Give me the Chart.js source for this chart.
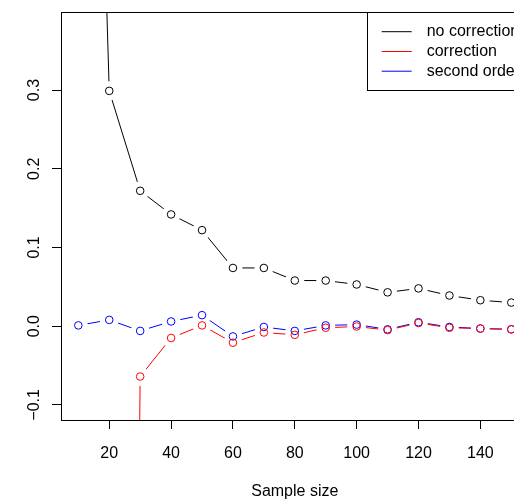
<!DOCTYPE html>
<html>
<head>
<meta charset="utf-8">
<script src="https://cdn.jsdelivr.net/npm/chart.js@4/dist/chart.umd.min.js"></script>
<style>
  html, body { margin: 0; padding: 0; background: #fff; overflow: hidden; width: 514px; height: 499px; }
  canvas { display: block; }
</style>
</head>
<body>
<canvas id="c" width="540" height="499"></canvas>
<script>
// ---- data ----
const sampleSizes = [10, 20, 30, 40, 50, 60, 70, 80, 90, 100, 110, 120, 130, 140, 150];
const noCorrection = [1.6, 0.299, 0.172, 0.142, 0.122, 0.074, 0.074, 0.058, 0.058, 0.053, 0.043, 0.048, 0.039, 0.033, 0.030];
const correction   = [null, -4.0, -0.064, -0.015, 0.001, -0.021, -0.008, -0.011, -0.002, -0.0004, -0.005, 0.004, -0.002, -0.003, -0.004];
const secondOrder  = [0.001, 0.008, -0.006, 0.006, 0.014, -0.013, -0.001, -0.006, 0.001, 0.002, -0.004, 0.005, -0.001, -0.003, -0.004];
const seriesLabels = ['no correction', 'correction', 'second order'];
const seriesColors = ['#000000', '#FF0000', '#0000FF'];
const xTicks = [20, 40, 60, 80, 100, 120, 140];
const yTicks = [-0.1, 0.0, 0.1, 0.2, 0.3];
const xTitle = 'Sample size';

const FONT = '"Liberation Sans", Arial, Helvetica, sans-serif';
const GAP = 9.5;

function toPoints(arr) {
  return sampleSizes.map((x, i) => ({ x: x, y: arr[i] }));
}

// R type="b": line segments leave a gap around each point
const gapPlugin = {
  id: 'gaps',
  beforeDatasetDraw(chart, args) {
    const ctx = chart.ctx;
    ctx.save();
    ctx.beginPath();
    ctx.rect(0, 0, chart.width, chart.height);
    args.meta.data.forEach(pt => {
      if (pt.skip || !isFinite(pt.x) || !isFinite(pt.y)) return;
      ctx.moveTo(pt.x + GAP, pt.y);
      ctx.arc(pt.x, pt.y, GAP, 0, Math.PI * 2, true);
    });
    ctx.clip('evenodd');
  },
  afterDatasetDraw(chart, args) {
    const ctx = chart.ctx;
    ctx.restore();
    const a = chart.chartArea;
    ctx.save();
    ctx.beginPath();
    ctx.rect(a.left, a.top, a.right - a.left, a.bottom - a.top);
    ctx.clip();
    args.meta.data.forEach(pt => pt.draw(ctx, a));
    ctx.restore();
  }
};

const boxLegendPlugin = {
  id: 'boxLegend',
  afterDraw(chart) {
    const ctx = chart.ctx;
    const a = chart.chartArea;
    ctx.save();
    ctx.strokeStyle = '#000';
    ctx.lineWidth = 1;
    ctx.strokeRect(Math.round(a.left) + 0.5, Math.round(a.top) + 0.5,
                   Math.round(a.right - a.left), Math.round(a.bottom - a.top));
    // legend box (top right)
    const lx = 367.5, ly = Math.round(a.top) + 0.5, lb = 90.5;
    const lr = Math.round(a.right) + 0.5;
    ctx.fillStyle = '#fff';
    ctx.fillRect(lx, ly, lr - lx, lb - ly);
    ctx.strokeRect(lx, ly, lr - lx, lb - ly);
    const rows = [31.7, 51.5, 71.2];
    ctx.font = '16px ' + FONT;
    ctx.textBaseline = 'middle';
    ctx.textAlign = 'left';
    chart.data.datasets.forEach((ds, i) => {
      ctx.strokeStyle = ds.borderColor;
      ctx.beginPath();
      ctx.moveTo(381.7, rows[i]);
      ctx.lineTo(411.7, rows[i]);
      ctx.stroke();
      ctx.fillStyle = '#000';
      ctx.fillText(ds.label, 426.7, rows[i]);
    });
    ctx.restore();
  }
};

const datasets = [noCorrection, correction, secondOrder].map((arr, i) => ({
  label: seriesLabels[i],
  data: toPoints(arr),
  borderColor: seriesColors[i],
  borderWidth: 1,
  pointRadius: 3.8,
  pointBorderWidth: 1,
  pointBorderColor: seriesColors[i],
  pointBackgroundColor: 'rgba(0,0,0,0)',
  pointHoverRadius: 3.8,
  tension: 0,
  spanGaps: false,
  fill: false
}));

new Chart(document.getElementById('c'), {
  type: 'line',
  data: { datasets: datasets },
  plugins: [gapPlugin, boxLegendPlugin],
  options: {
    responsive: false,
    devicePixelRatio: 1,
    animation: false,
    events: [],
    layout: { padding: { left: 0, top: 12, right: 11.4, bottom: 0 } },
    plugins: { legend: { display: false }, tooltip: { enabled: false }, title: { display: false } },
    scales: {
      x: {
        type: 'linear',
        min: 4.4,
        max: 155.6,
        afterBuildTicks: s => { s.ticks = xTicks.map(v => ({ value: v })); },
        afterFit: s => { s.height = 79; },
        border: { display: false },
        grid: { display: true, drawOnChartArea: false, drawTicks: true, tickLength: 9, tickColor: '#000', lineWidth: 1 },
        ticks: { color: '#000', font: { family: FONT, size: 16 }, padding: 15, maxRotation: 0, minRotation: 0, autoSkip: false,
                 callback: v => String(v) },
        title: { display: true, text: xTitle, color: '#000', font: { family: FONT, size: 16 }, padding: { top: 0, bottom: -2 } }
      },
      y: {
        type: 'linear',
        min: -0.1192,
        max: 0.3992,
        afterBuildTicks: s => { s.ticks = yTicks.map(v => ({ value: v })); },
        afterFit: s => { s.width = 61; },
        border: { display: false },
        grid: { display: true, drawOnChartArea: false, drawTicks: true, tickLength: 9, tickColor: '#000', lineWidth: 1 },
        ticks: { color: '#000', font: { family: FONT, size: 16 }, padding: 2, minRotation: 90, maxRotation: 90,
                 crossAlign: 'center', autoSkip: false,
                 callback: v => (Math.abs(v) < 1e-9 ? '0.0' : v.toFixed(1).replace('-', '\u2212')) }
      }
    }
  }
});
</script>
</body>
</html>
